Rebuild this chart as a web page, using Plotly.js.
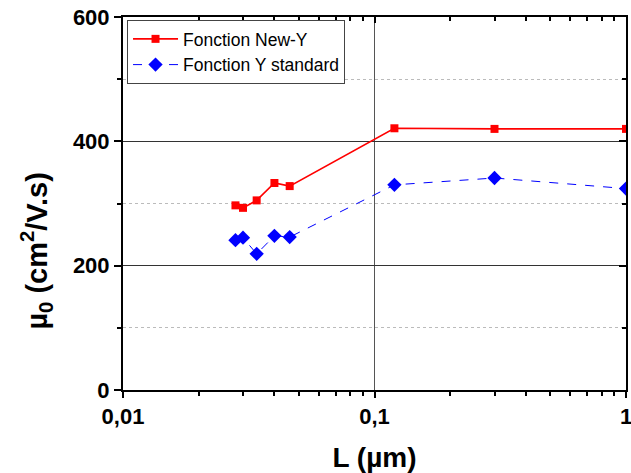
<!DOCTYPE html>
<html><head><meta charset="utf-8">
<script src="https://cdn.plot.ly/plotly-3.0.1.min.js"></script>
<style>html,body{margin:0;padding:0;background:#fff}</style>
</head><body><div id="c" style="width:631px;height:473px"></div>
<script>
const L = [0.028, 0.030, 0.034, 0.040, 0.046, 0.12, 0.3, 1.0];
const newY = [297, 293, 305, 333, 328, 421, 420, 420];
const stdY = [241, 245, 219, 248, 246, 330, 341, 324];
const xTickVals = [0.01, 0.1, 1];
const xTickText = ['0,01', '0,1', '1'];
const yTickVals = [0, 200, 400, 600];
const xMinorVals = [0.02,0.03,0.04,0.05,0.06,0.07,0.08,0.09,0.2,0.3,0.4,0.5,0.6,0.7,0.8,0.9];
const yTitle = 'µ<sub>0</sub> (cm<sup>2</sup>/V.s)';
const xTitle = 'L (µm)';

const tickFont = {family:'Liberation Sans, Arial', size:22, color:'#000', weight:'bold'};
const titleFont = {family:'Liberation Sans, Arial', size:28, color:'#000', weight:'bold'};
const data = [
  {x:L, y:newY, name:'Fonction New-Y', mode:'lines+markers', type:'scatter',
   line:{color:'#ff0000', width:1.6}, marker:{symbol:'square', size:8, color:'#ff0000'}},
  {x:L, y:stdY, name:'Fonction Y standard', mode:'lines+markers', type:'scatter',
   line:{color:'#0000ff', width:1, dash:'dash'}, marker:{symbol:'diamond', size:11, color:'#0000ff'}},
  {x:[], y:[], xaxis:'x2', yaxis:'y2', showlegend:false, type:'scatter'}
];
const layout = {
  width:631, height:473,
  margin:{l:123, r:5, t:17, b:83},
  paper_bgcolor:'#fff', plot_bgcolor:'#fff',
  showlegend:true,
  legend:{x:0.008, y:0.992, xanchor:'left', yanchor:'top', bgcolor:'#fff',
    bordercolor:'#444', borderwidth:1, font:{family:'Liberation Sans, Arial', size:17.5, color:'#000'},
    tracegroupgap:0, itemwidth:45},
  xaxis:{type:'log', range:[-2, 0], tickvals:xTickVals, ticktext:xTickText,
    showline:true, linecolor:'#000', linewidth:2, mirror:true, ticklabeloverflow:'allow',
    ticks:'outside', ticklen:6, tickwidth:2, tickcolor:'#000', tickfont:tickFont,
    showgrid:true, gridcolor:'#555', gridwidth:1, zeroline:false,
    minor:{ticks:'outside', ticklen:4, tickwidth:2, tickcolor:'#000', showgrid:false, tickvals:xMinorVals},
    title:{text:xTitle, font:titleFont, standoff:19}},
  yaxis:{range:[0, 600], tickvals:yTickVals,
    showline:true, linecolor:'#000', linewidth:2, mirror:true, ticklabeloverflow:'allow',
    ticks:'outside', ticklen:7, tickwidth:2, tickcolor:'#000', tickfont:tickFont,
    showgrid:true, gridcolor:'#333', gridwidth:1, zeroline:false,
    minor:{dtick:100, ticks:'outside', ticklen:4, tickwidth:2, tickcolor:'#000',
      showgrid:true, gridcolor:'#bbb', griddash:'dot', gridwidth:1}},
  xaxis2:{type:'log', range:[-2, 0], overlaying:'x', side:'top', anchor:'y2',
    showticklabels:false, showgrid:false, zeroline:false, tickvals:xTickVals,
    ticks:'inside', ticklen:6, tickwidth:2, tickcolor:'#000',
    minor:{ticks:'inside', ticklen:4, tickwidth:2, tickcolor:'#000', showgrid:false, tickvals:xMinorVals}},
  yaxis2:{range:[0, 600], overlaying:'y', side:'right', anchor:'x2',
    showticklabels:false, showgrid:false, zeroline:false, tickvals:yTickVals,
    ticks:'inside', ticklen:7, tickwidth:2, tickcolor:'#000',
    minor:{dtick:100, ticks:'inside', ticklen:4, tickwidth:2, tickcolor:'#000', showgrid:false}},
  annotations:[{text:yTitle, xref:'paper', yref:'paper', x:-0.172, y:0.375,
    xanchor:'center', yanchor:'middle', textangle:-90, showarrow:false,
    font:{family:'Liberation Sans, Arial', size:29, color:'#000', weight:'bold'}}]
};
Plotly.newPlot('c', data, layout, {displayModeBar:false, staticPlot:true});
</script></body></html>
